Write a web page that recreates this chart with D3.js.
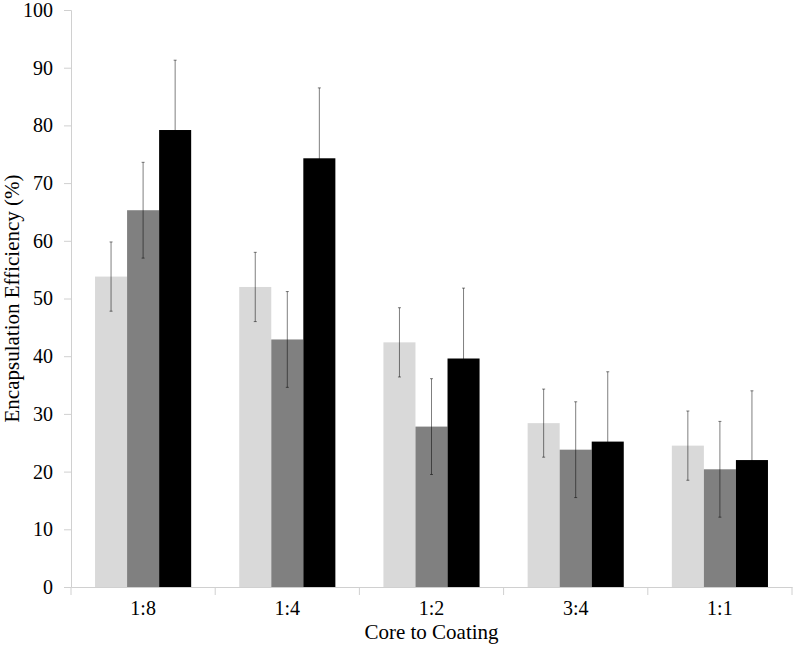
<!DOCTYPE html>
<html>
<head>
<meta charset="utf-8">
<script src="https://cdn.jsdelivr.net/npm/d3@7"></script>
<style>
  body { margin: 0; background: #fff; }
  svg { display: block; }
</style>
</head>
<body>
<svg id="chart" width="793" height="652"></svg>
<script>
const categories = ["1:8", "1:4", "1:2", "3:4", "1:1"];
const seriesNames = ["A", "B", "C"];
const seriesA = [53.8, 52.0, 42.4, 28.4, 24.5];
const seriesB = [65.3, 42.9, 27.8, 23.8, 20.4];
const seriesC = [79.2, 74.3, 39.6, 25.2, 22.0];
const errorA = [6.0, 6.0, 6.0, 5.9, 6.0];
const errorB = [8.3, 8.3, 8.3, 8.3, 8.3];
const errorC = [12.1, 12.2, 12.2, 12.1, 12.0];
const yTicks = [0, 10, 20, 30, 40, 50, 60, 70, 80, 90, 100];
const colors = ["#d9d9d9", "#808080", "#000000"];

const values = [seriesA, seriesB, seriesC];
const errors = [errorA, errorB, errorC];

const FONT = "'Liberation Serif', 'Times New Roman', 'DejaVu Serif', serif";
const svg = d3.select("#chart");
const margin = { left: 71, right: 1, top: 10, bottom: 65 };
const W = 793, H = 652;

const x0 = d3.scaleBand().domain(categories).range([margin.left, W - margin.right]).padding(0);
const x1 = d3.scaleBand().domain(seriesNames).range([0, x0.bandwidth()]).paddingInner(0).paddingOuter(0.75);
const y = d3.scaleLinear().domain([0, 100]).range([H - margin.bottom, margin.top]);

// Y axis
const yAxis = svg.append("g").attr("transform", `translate(${margin.left},0)`)
  .call(d3.axisLeft(y).tickValues(yTicks).tickSize(7).tickPadding(11));
yAxis.attr("font-family", FONT).attr("font-size", 20);
yAxis.select(".domain").attr("stroke", "#d0d0d0");
yAxis.selectAll(".tick line").attr("stroke", "#d0d0d0");
yAxis.selectAll(".tick text").attr("fill", "#000");

// Bars
const groups = svg.append("g").selectAll("g").data(categories).join("g")
  .attr("transform", d => `translate(${x0(d)},0)`);

groups.each(function(cat, ci) {
  const g = d3.select(this);
  seriesNames.forEach((s, si) => {
    const v = values[si][ci];
    g.append("rect")
      .attr("x", x1(s))
      .attr("y", y(v))
      .attr("width", x1.bandwidth())
      .attr("height", y(0) - y(v))
      .attr("fill", colors[si]);
  });
  seriesNames.forEach((s, si) => {
    const v = values[si][ci], e = errors[si][ci];
    const cx = x1(s) + x1.bandwidth() / 2;
    const eg = g.append("g").attr("stroke", "#000").attr("stroke-opacity", 0.5).attr("stroke-width", 1);
    eg.append("line").attr("x1", cx).attr("x2", cx).attr("y1", y(v + e)).attr("y2", y(v - e));
    eg.append("line").attr("x1", cx - 1.5).attr("x2", cx + 1.5).attr("y1", y(v + e)).attr("y2", y(v + e));
    eg.append("line").attr("x1", cx - 1.5).attr("x2", cx + 1.5).attr("y1", y(v - e)).attr("y2", y(v - e));
  });
});

// X axis
const xAxis = svg.append("g").attr("transform", `translate(0,${y(0)})`)
  .call(d3.axisBottom(x0).tickSize(0).tickPadding(14));
xAxis.attr("font-family", FONT).attr("font-size", 20);
xAxis.select(".domain").attr("stroke", "#d0d0d0");
xAxis.selectAll(".tick text").attr("fill", "#000");
// category boundary ticks
const bounds = categories.map(c => x0(c)).concat([x0(categories[categories.length - 1]) + x0.bandwidth()]);
svg.append("g").selectAll("line").data(bounds).join("line")
  .attr("x1", d => d).attr("x2", d => d)
  .attr("y1", y(0)).attr("y2", y(0) + 8)
  .attr("stroke", "#d0d0d0");

// Axis titles
svg.append("text")
  .attr("x", (margin.left + W - margin.right) / 2)
  .attr("y", 639)
  .attr("text-anchor", "middle")
  .attr("font-family", FONT)
  .attr("font-size", 21)
  .text("Core to Coating");

svg.append("text")
  .attr("transform", `translate(19,${(y(0) + y(100)) / 2}) rotate(-90)`)
  .attr("text-anchor", "middle")
  .attr("font-family", FONT)
  .attr("font-size", 21)
  .text("Encapsulation Efficiency (%)");
</script>
</body>
</html>
